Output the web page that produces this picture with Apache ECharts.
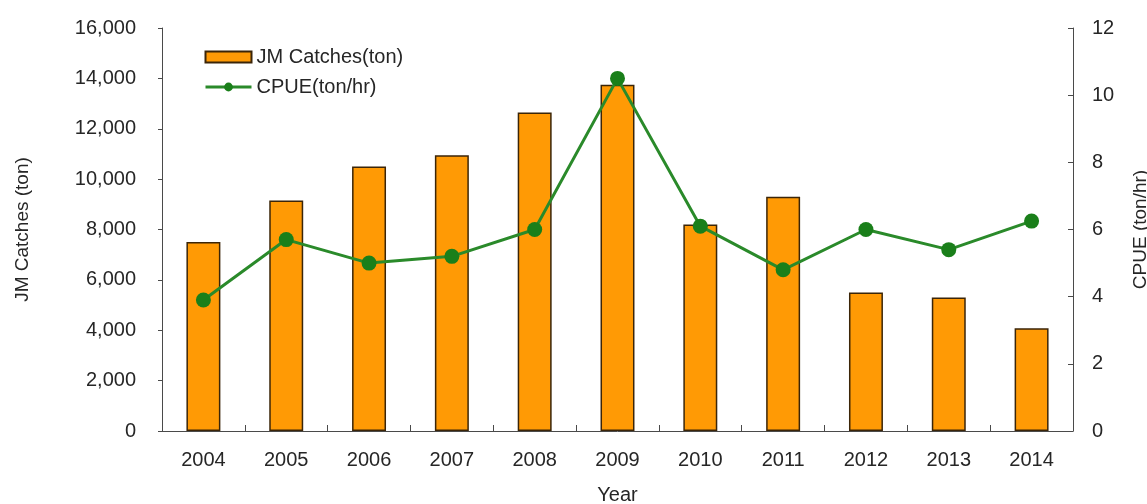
<!DOCTYPE html>
<html>
<head>
<meta charset="utf-8">
<script src="https://cdn.jsdelivr.net/npm/echarts@6/dist/echarts.min.js"></script>
<style>
  html, body { margin: 0; padding: 0; background: #fff; }
  #main { width: 1147px; height: 504px; }
</style>
</head>
<body>
<div id="main"></div>
<script>
var years = ['2004', '2005', '2006', '2007', '2008', '2009', '2010', '2011', '2012', '2013', '2014'];
var catches = [7500, 9150, 10500, 10950, 12650, 13750, 8200, 9300, 5500, 5300, 4075];
var cpue = [3.9, 5.7, 5.0, 5.2, 6.0, 10.5, 6.1, 4.8, 6.0, 5.4, 6.25];

var font = 'Liberation Sans';
var txt = '#262626';
var axisCol = '#4a4a4a';

var myChart = echarts.init(document.getElementById('main'));
var option = {
    backgroundColor: '#fff',
    animation: false,
    textStyle: { fontFamily: font, color: txt },
    grid: { left: 162, right: 74, top: 28, bottom: 73, outerBoundsMode: 'none', containLabel: false },
    legend: {
        orient: 'vertical',
        left: 199,
        top: 42,
        itemWidth: 46,
        itemHeight: 11,
        itemGap: 10,
        lineStyle: { width: 3 },
        textStyle: { fontFamily: font, fontSize: 20, color: txt },
        data: [
            { name: 'JM Catches(ton)', icon: 'rect' },
            { name: 'CPUE(ton/hr)' }
        ]
    },
    xAxis: {
        type: 'category',
        data: years,
        name: 'Year',
        nameLocation: 'middle',
        nameGap: 54,
        nameTextStyle: { fontFamily: font, fontSize: 20, color: txt },
        axisLine: { lineStyle: { color: axisCol, width: 1 } },
        axisTick: { show: true, inside: true, length: 6, lineStyle: { color: axisCol } },
        axisLabel: { fontFamily: font, fontSize: 20, color: txt, margin: 19 }
    },
    yAxis: [
        {
            type: 'value',
            min: 0,
            max: 16000,
            interval: 2000,
            name: 'JM Catches (ton)',
            nameLocation: 'middle',
            nameRotate: 90,
            nameGap: 130,
            nameTextStyle: { fontFamily: font, fontSize: 19, color: txt },
            splitLine: { show: false },
            axisLine: { show: true, lineStyle: { color: axisCol, width: 1 } },
            axisTick: { show: true, length: 4, lineStyle: { color: axisCol } },
            axisLabel: {
                fontFamily: font, fontSize: 20, color: txt, margin: 26,
                formatter: function (v) { return v.toLocaleString('en-US'); }
            }
        },
        {
            type: 'value',
            min: 0,
            max: 12,
            interval: 2,
            position: 'right',
            name: 'CPUE (ton/hr)',
            nameLocation: 'middle',
            nameRotate: 90,
            nameGap: 58,
            nameTextStyle: { fontFamily: font, fontSize: 19, color: txt },
            splitLine: { show: false },
            axisLine: { show: true, lineStyle: { color: axisCol, width: 1 } },
            axisTick: { show: true, inside: true, length: 5, lineStyle: { color: axisCol } },
            axisLabel: { fontFamily: font, fontSize: 20, color: txt, margin: 19 }
        }
    ],
    series: [
        {
            name: 'JM Catches(ton)',
            type: 'bar',
            data: catches,
            barWidth: '41%',
            itemStyle: { color: '#FF9A05', borderColor: '#3b2508', borderWidth: 1.5 }
        },
        {
            name: 'CPUE(ton/hr)',
            type: 'line',
            yAxisIndex: 1,
            data: cpue,
            symbol: 'circle',
            symbolSize: 15,
            lineStyle: { color: '#2a8a2a', width: 3 },
            itemStyle: { color: '#1a7f1a' }
        }
    ]
};
myChart.setOption(option);
</script>
</body>
</html>
